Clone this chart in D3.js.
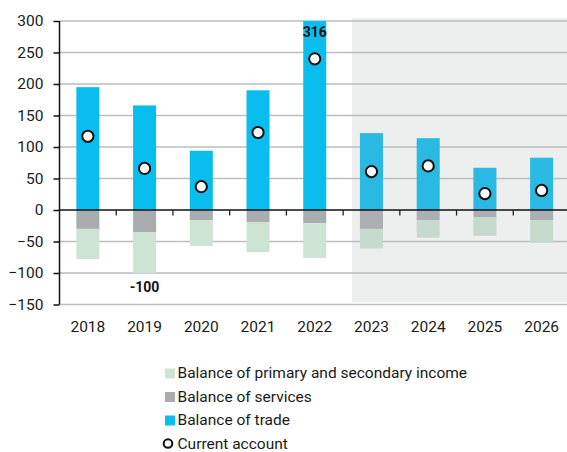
<!DOCTYPE html>
<html>
<head>
<meta charset="utf-8">
<script src="https://cdn.jsdelivr.net/npm/d3@7"></script>
<style>
  html, body { margin: 0; padding: 0; background: #ffffff; }
  svg { display: block; font-family: Roboto, "Noto Sans", sans-serif; }
</style>
</head>
<body>
<svg id="chart" width="567" height="452"></svg>
<script>
// Current account components, EUR bn
const years = ["2018", "2019", "2020", "2021", "2022", "2023", "2024", "2025", "2026"];
const tradeBalance = [195, 166, 94, 190, 316, 122, 114, 67, 83];
const servicesBalance = [-30, -35, -16, -19, -21, -30, -16, -12, -16];
const incomeBalance = [-48, -65, -41, -48, -55, -31, -28, -29, -36];
const currentAccount = [117, 66, 37, 123, 240, 61, 70, 26, 31];
const forecastFrom = "2023";
const yTicks = [-150, -100, -50, 0, 50, 100, 150, 200, 250, 300];
const valueLabels = [
  { year: "2022", value: 316, text: "316", where: "top" },
  { year: "2019", value: -100, text: "-100", where: "bottom" }
];
const legendItems = [
  { key: "income", label: "Balance of primary and secondary income" },
  { key: "services", label: "Balance of services" },
  { key: "trade", label: "Balance of trade" },
  { key: "ca", label: "Current account" }
];

const colors = {
  trade: "#0abdef", tradeF: "#29b9e2",
  services: "#a9adb0", servicesF: "#abafb2",
  income: "#cde3d4", incomeF: "#c5dacd",
  shade: "#edefee", grid: "#babebe"
};

const svg = d3.select("#chart");
const margin = { left: 59.5, top: 21, right: 570, bottom: 304.5 };

const x = d3.scaleBand()
  .domain(years)
  .range([margin.left, margin.right])
  .paddingInner(0.594)
  .paddingOuter(0.297);

const y = d3.scaleLinear()
  .domain([-150, 300])
  .range([margin.bottom, margin.top]);

const isForecast = yr => years.indexOf(yr) >= years.indexOf(forecastFrom);

// Forecast period background
svg.append("rect")
  .attr("x", x(forecastFrom) - x.bandwidth() * 0.35)
  .attr("y", y(300) - 3)
  .attr("width", 567 - (x(forecastFrom) - x.bandwidth() * 0.35))
  .attr("height", y(-150) - y(300) + 1)
  .attr("fill", colors.shade);

// Horizontal gridlines
svg.append("g")
  .selectAll("line")
  .data(yTicks.filter(d => d !== 0))
  .join("line")
  .attr("x1", margin.left)
  .attr("x2", 567)
  .attr("y1", d => y(d))
  .attr("y2", d => y(d))
  .attr("stroke", colors.grid)
  .attr("stroke-width", 1.6);

svg.append("clipPath").attr("id", "plot-clip")
  .append("rect")
  .attr("x", margin.left).attr("y", y(300))
  .attr("width", 567 - margin.left).attr("height", y(-150) - y(300));

const bars = svg.append("g").attr("clip-path", "url(#plot-clip)");

// Trade balance (positive)
bars.selectAll("rect.trade")
  .data(years)
  .join("rect")
  .attr("class", "trade")
  .attr("x", d => x(d))
  .attr("width", x.bandwidth())
  .attr("y", (d, i) => y(tradeBalance[i]))
  .attr("height", (d, i) => y(0) - y(tradeBalance[i]))
  .attr("fill", d => isForecast(d) ? colors.tradeF : colors.trade);

// Services balance (negative, from zero)
bars.selectAll("rect.services")
  .data(years)
  .join("rect")
  .attr("class", "services")
  .attr("x", d => x(d))
  .attr("width", x.bandwidth())
  .attr("y", y(0))
  .attr("height", (d, i) => y(servicesBalance[i]) - y(0))
  .attr("fill", d => isForecast(d) ? colors.servicesF : colors.services);

// Primary and secondary income (stacked below services)
bars.selectAll("rect.income")
  .data(years)
  .join("rect")
  .attr("class", "income")
  .attr("x", d => x(d))
  .attr("width", x.bandwidth())
  .attr("y", (d, i) => y(servicesBalance[i]))
  .attr("height", (d, i) => y(servicesBalance[i] + incomeBalance[i]) - y(servicesBalance[i]))
  .attr("fill", d => isForecast(d) ? colors.incomeF : colors.income);

// Zero line and category ticks
svg.append("line")
  .attr("x1", margin.left).attr("x2", 567)
  .attr("y1", y(0)).attr("y2", y(0))
  .attr("stroke", "#111").attr("stroke-width", 1.5);

svg.append("g")
  .selectAll("line")
  .data(years.slice(1))
  .join("line")
  .attr("x1", d => x(d) - x.step() * x.paddingInner() / 2)
  .attr("x2", d => x(d) - x.step() * x.paddingInner() / 2)
  .attr("y1", y(0))
  .attr("y2", y(0) + 5.5)
  .attr("stroke", "#222")
  .attr("stroke-width", 1.3);

// Y axis
const yAxis = svg.append("g")
  .attr("transform", `translate(${margin.left},0)`)
  .call(d3.axisLeft(y).tickValues(yTicks).tickSize(6).tickPadding(10).tickFormat(d3.format("d")));
yAxis.select(".domain").attr("stroke", "#111").attr("stroke-width", 1.5)
  .attr("d", `M0,${y(300)}V${y(-150)}`);
yAxis.selectAll(".tick line").attr("stroke", "#111").attr("stroke-width", 1.5);
yAxis.selectAll(".tick text")
  .attr("fill", "#1a1a1a")
  .style("font-size", "15.5px")
  .style("font-family", "Roboto, sans-serif");

// X axis labels
svg.append("g")
  .selectAll("text")
  .data(years)
  .join("text")
  .attr("x", d => x(d) + x.bandwidth() / 2)
  .attr("y", 327)
  .attr("text-anchor", "middle")
  .attr("dominant-baseline", "central")
  .attr("fill", "#1a1a1a")
  .style("font-size", "15.5px")
  .text(d => d);

// Current account markers
svg.append("g")
  .selectAll("circle")
  .data(years)
  .join("circle")
  .attr("cx", d => x(d) + x.bandwidth() / 2)
  .attr("cy", (d, i) => y(currentAccount[i]))
  .attr("r", 5.6)
  .attr("fill", "#ffffff")
  .attr("stroke", "#111")
  .attr("stroke-width", 2);

// Value labels
svg.append("g")
  .selectAll("text")
  .data(valueLabels)
  .join("text")
  .attr("x", d => x(d.year) + x.bandwidth() / 2)
  .attr("y", d => d.where === "top" ? Math.max(y(d.value), y(300)) + 11 : y(d.value) + 14)
  .attr("text-anchor", "middle")
  .attr("dominant-baseline", "central")
  .attr("fill", "#111")
  .style("font-size", "14px")
  .style("font-weight", "bold")
  .text(d => d.text);

// Legend
const legend = svg.append("g");
const rowY = i => 373 + i * 23.5;
legendItems.forEach((item, i) => {
  if (item.key === "ca") {
    legend.append("circle")
      .attr("cx", 168).attr("cy", rowY(i))
      .attr("r", 4.3)
      .attr("fill", "#fff").attr("stroke", "#111").attr("stroke-width", 2);
  } else {
    legend.append("rect")
      .attr("x", 165).attr("y", rowY(i) - 4.5)
      .attr("width", 10).attr("height", 10)
      .attr("fill", colors[item.key]);
  }
  legend.append("text")
    .attr("x", 177.5).attr("y", rowY(i))
    .attr("dominant-baseline", "central")
    .attr("fill", "#1a1a1a")
    .style("font-size", "15.5px")
    .text(item.label);
});
</script>
</body>
</html>
